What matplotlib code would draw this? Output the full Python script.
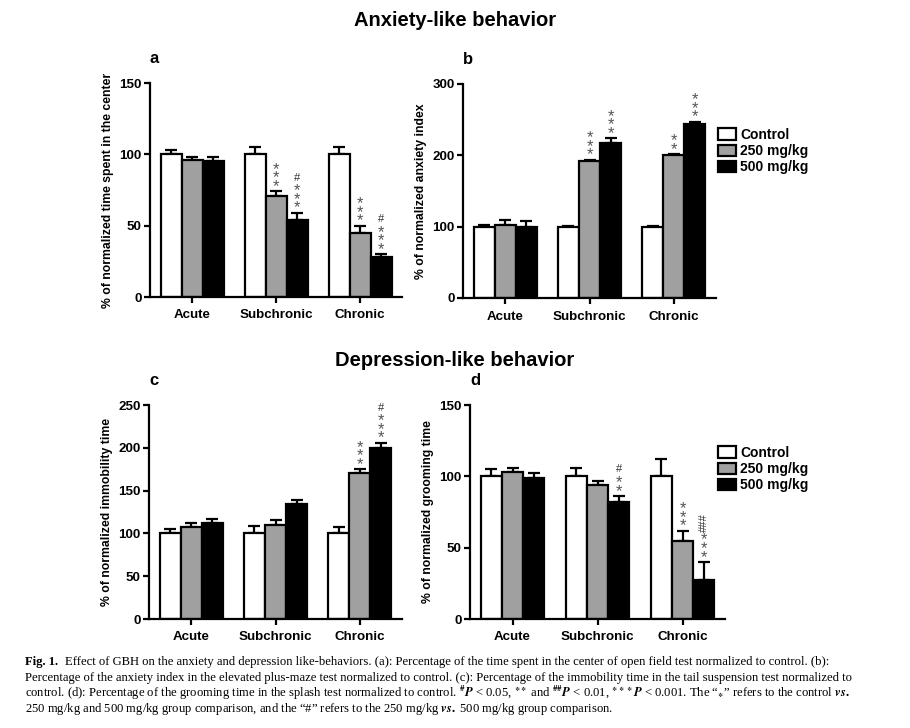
import matplotlib
matplotlib.use("Agg")
import matplotlib.pyplot as plt
import numpy as np
from matplotlib.patches import Patch

plt.rcParams["font.family"] = ["Liberation Sans", "DejaVu Sans"]
plt.rcParams["font.weight"] = "bold"
plt.rcParams["mathtext.fontset"] = "stix"

# ---------------------------------------------------------------- data
groups = ["Acute", "Subchronic", "Chronic"]
series = ["Control", "250 mg/kg", "500 mg/kg"]

a_mean = [[100, 100, 100], [96, 71, 45], [95, 54, 28]]
a_err = [[3, 5, 5], [2, 3, 5], [3, 5, 2]]
b_mean = [[100, 100, 100], [102, 192, 200], [100, 217, 244]]
b_err = [[2, 1, 1], [8, 2, 2], [8, 7, 3]]
c_mean = [[100, 100, 100], [107, 110, 170], [112, 134, 200]]
c_err = [[5, 9, 7], [5, 6, 5], [5, 5, 6]]
d_mean = [[100, 100, 100], [103, 94, 55], [99, 82, 27]]
d_err = [[5, 6, 12], [3, 3, 7], [3, 4, 13]]

# significance marks: (series index, group index, n stars, n hashes)
a_sig = [(1, 1, 3, 0), (2, 1, 3, 1), (1, 2, 3, 0), (2, 2, 3, 1)]
b_sig = [(1, 1, 3, 0), (2, 1, 3, 0), (1, 2, 2, 0), (2, 2, 3, 0)]
c_sig = [(1, 2, 3, 0), (2, 2, 3, 1)]
d_sig = [(2, 1, 2, 1), (1, 2, 3, 0), (2, 2, 3, 3)]

colors = ["white", "#a0a0a0", "black"]

W, H = 910, 728
fig = plt.figure(figsize=(W / 100, H / 100), dpi=100)


def px_axes(x0, x1, y0, y1):
    # pixel box (top-left origin) -> figure axes
    return fig.add_axes([x0 / W, 1 - y1 / H, (x1 - x0) / W, (y1 - y0) / H])


def panel(ax, means, errs, sig, ymax, ystep, ylabel, letter):
    x = np.arange(len(groups))
    w = 0.25
    for s in range(3):
        xs = x + (s - 1) * w
        ax.bar(xs, means[s], w, color=colors[s], edgecolor="black",
               linewidth=1.6, zorder=2)
        ax.errorbar(xs, means[s], yerr=[np.zeros(3), errs[s]], fmt="none",
                    ecolor="black", elinewidth=1.6, capsize=4.5,
                    capthick=1.6, zorder=1)
    for s, g, ns, nh in sig:
        top = means[s][g] + errs[s][g]
        xx = x[g] + (s - 1) * w
        ax.annotate("\n".join(["*"] * ns), xy=(xx, top), xytext=(0, -2),
                    textcoords="offset points", ha="center", va="bottom",
                    fontsize=12, color="#555555", fontweight="normal",
                    linespacing=0.47)
        if nh:
            ax.annotate("#" * nh, xy=(xx, top),
                        xytext=(0, 4 + ns * 5.9), rotation=90 if nh > 1 else 0,
                        textcoords="offset points", ha="center", va="bottom",
                        fontsize=8, color="#333333", fontweight="normal")
    ax.set_xlim(-0.5, 2.5)
    ax.set_ylim(0, ymax)
    ax.set_yticks(np.arange(0, ymax + 1, ystep))
    ax.set_xticks(x)
    ax.set_xticklabels(groups)
    for sp in ("top", "right"):
        ax.spines[sp].set_visible(False)
    for sp in ("left", "bottom"):
        ax.spines[sp].set_linewidth(1.6)
    ax.tick_params(axis="both", width=1.6, length=4, labelsize=9.6, pad=2)
    ax.tick_params(axis="x", pad=5)
    ax.set_ylabel(ylabel, fontsize=8.8, fontweight="bold", labelpad=4)
    ax.text(0.0, 1.08, letter, transform=ax.transAxes, fontsize=12,
            fontweight="bold", ha="left", va="bottom")


ax_a = px_axes(150, 402, 83, 297)
panel(ax_a, a_mean, a_err, a_sig, 150, 50,
      "% of normalized time spent in the center", "a")
ax_b = px_axes(463, 716, 84, 298)
panel(ax_b, b_mean, b_err, b_sig, 300, 100,
      "% of normalized anxiety index", "b")
ax_c = px_axes(149, 402, 405, 619)
panel(ax_c, c_mean, c_err, c_sig, 250, 50,
      "% of normalized immobility time", "c")
ax_d = px_axes(470, 725, 405, 619)
panel(ax_d, d_mean, d_err, d_sig, 150, 50,
      "% of normalized grooming time", "d")

handles = [Patch(facecolor=c, edgecolor="black", linewidth=1.6, label=l)
           for c, l in zip(colors, series)]
for yy in (128, 446):
    fig.legend(handles=handles, loc="upper left",
               bbox_to_anchor=(718 / W, 1 - yy / H), frameon=False,
               handlelength=1.3, handleheight=0.9,
               handletextpad=0.3, labelspacing=0.15, borderpad=0,
               borderaxespad=0, prop={"weight": "bold", "size": 10})

fig.text(455 / W, 1 - 20 / H, "Anxiety-like behavior", ha="center",
         va="center", fontsize=14.5, fontweight="bold")
fig.text(455 / W, 1 - 360 / H, "Depression-like behavior", ha="center",
         va="center", fontsize=14.5, fontweight="bold")

# caption
cap_font = dict(family=["Liberation Serif", "DejaVu Serif"], fontsize=9.1,
                fontweight="normal", va="center", ha="left")
fig.text(25 / W, 1 - 662 / H, "Fig. 1.", **{**cap_font, "fontweight": "bold"})
fig.text(65 / W, 1 - 662 / H,
         "Effect of GBH on the anxiety and depression like-behaviors. (a): "
         "Percentage of the time spent in the center of open field test "
         "normalized to control. (b):", **cap_font)
fig.text(25 / W, 1 - 677.5 / H,
         "Percentage of the anxiety index in the elevated plus-maze test "
         "normalized to control. (c): Percentage of the immobility time in "
         "the tail suspension test normalized to", **cap_font)
fig.text(25 / W, 1 - 693 / H,
         "control. (d): Percentage of the grooming time in the splash test "
         "normalized to control. $^{\\#}\\mathit{P}$ < 0.05, $^{\\ast\\ast}$ and "
         "$^{\\#\\#}\\mathit{P}$ < 0.01, $^{\\ast\\ast\\ast}\\mathit{P}$ < 0.001. "
         "The \u201c$_{\\ast}$\u201d refers to the control $\\mathit{vs.}$",
         **cap_font)
fig.text(25 / W, 1 - 709 / H,
         "250 mg/kg and 500 mg/kg group comparison, and the "
         "\u201c#\u201d refers to the 250 mg/kg $\\mathit{vs.}$ 500 mg/kg "
         "group comparison.", **cap_font)

fig.savefig("out.png", dpi=100)
